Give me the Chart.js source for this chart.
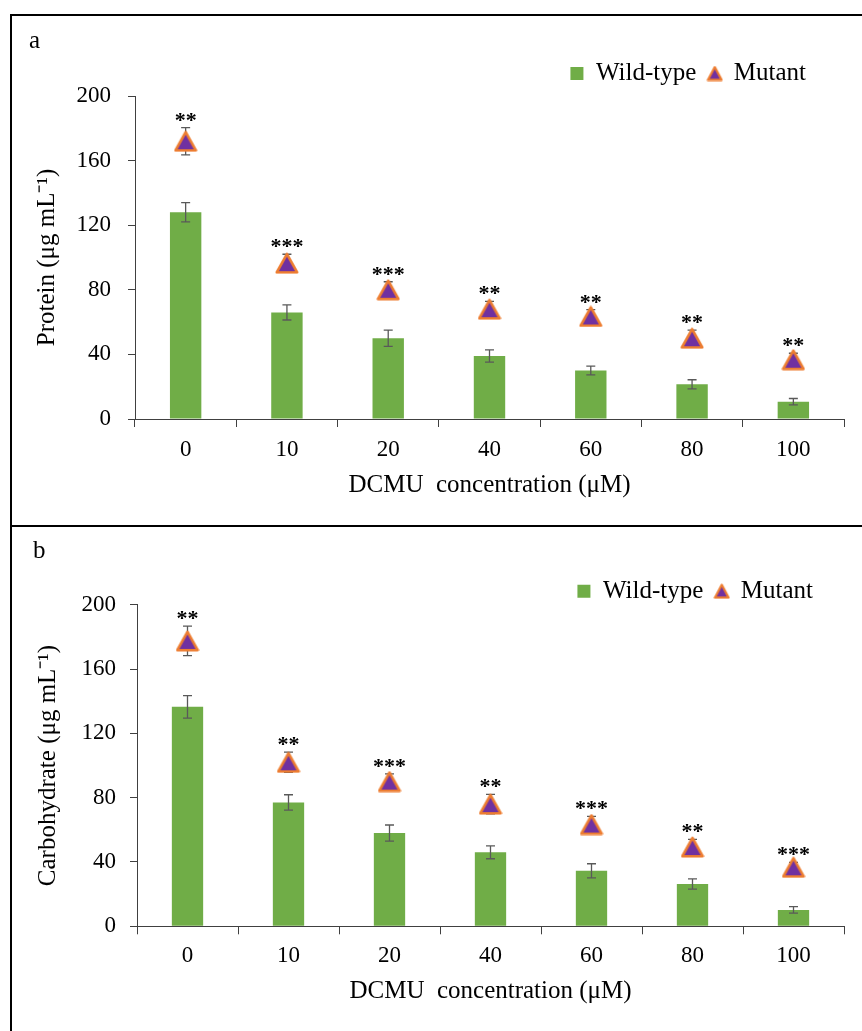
<!DOCTYPE html>
<html>
<head>
<meta charset="utf-8">
<script src="https://cdn.jsdelivr.net/npm/chart.js@4.4.0/dist/chart.umd.min.js"></script>
<style>
  html, body { margin: 0; padding: 0; background: #fff; overflow: hidden; }
  body { width: 862px; height: 1031px; position: relative; }
  .box { position: absolute; left: 10px; width: 880px; border: 2px solid #000; }
  #boxA { top: 14px; height: 509px; }
  #boxB { top: 525px; height: 540px; }
  canvas { position: absolute; left: 0; top: 0; }
</style>
</head>
<body>
<div class="box" id="boxA"><canvas id="chartA" width="850" height="509"></canvas></div>
<div class="box" id="boxB"><canvas id="chartB" width="850" height="503"></canvas></div>
<script>
// datos
const doses = ['0', '10', '20', '40', '60', '80', '100'];

const wildA = [128, 66, 50, 39, 30, 21.5, 10.7];
const wildErrA = [6, 4.7, 5, 3.8, 2.7, 2.8, 2];
const mutA = [172, 96.5, 80, 68, 63.5, 50, 36.7];
const mutErrA = [8.4, 5.5, 5, 4.8, 4.2, 5, 4];
const starsA = ['**', '***', '***', '**', '**', '**', '**'];

const wildB = [136.5, 77, 58, 46, 34.5, 26.3, 10.2];
const wildErrB = [7, 4.8, 5, 4, 4.4, 3.2, 2];
const mutB = [177.5, 102, 90, 76, 63.3, 49.3, 36.7];
const mutErrB = [9.2, 6.3, 4.8, 6, 5, 4.8, 3.1];
const starsB = ['**', '**', '***', '**', '***', '**', '***'];

const serif = "'Liberation Serif', 'Times New Roman', serif";
const axisCol = '#404040';

// triangulo tipo Excel (borde naranja, relleno morado)
function makeTri(w, h, lw) {
    const c = document.createElement('canvas');
    c.width = w; c.height = h;
    const ctx = c.getContext('2d');
    ctx.lineJoin = 'round';
    ctx.lineWidth = lw;
    ctx.fillStyle = '#7030A0';
    ctx.strokeStyle = '#ED7D31';
    ctx.beginPath();
    ctx.moveTo(w / 2, lw / 2 + 0.5);
    ctx.lineTo(w - lw / 2 - 0.5, h - lw / 2 - 0.5);
    ctx.lineTo(lw / 2 + 0.5, h - lw / 2 - 0.5);
    ctx.closePath();
    ctx.fill();
    ctx.stroke();
    return c;
}
const triBig = makeTri(24, 22, 2.6);
const triSmall = makeTri(17, 16, 2.2);

function drawErr(chart, idx, errs) {
    const meta = chart.getDatasetMeta(idx);
    const y = chart.scales.y;
    const vals = chart.data.datasets[idx].data;
    const ctx = chart.ctx;
    ctx.save();
    ctx.strokeStyle = '#595959';
    ctx.lineWidth = 1.3;
    meta.data.forEach((el, i) => {
        const x = el.x;
        const t = y.getPixelForValue(vals[i] + errs[i]);
        const b = y.getPixelForValue(vals[i] - errs[i]);
        ctx.beginPath();
        ctx.moveTo(x, t); ctx.lineTo(x, b);
        ctx.moveTo(x - 4.5, t); ctx.lineTo(x + 4.5, t);
        ctx.moveTo(x - 4.5, b); ctx.lineTo(x + 4.5, b);
        ctx.stroke();
    });
    ctx.restore();
}

const extras = {
    id: 'extras',
    afterLayout(chart, args, o) {
        const lg = chart.legend;
        lg.left += o.dx; lg.right += o.dx;
        lg.top += o.dy; lg.bottom += o.dy;
    },
    beforeDatasetDraw(chart, args, o) {
        if (args.index === 1) drawErr(chart, 1, o.mutErr);
    },
    afterDatasetDraw(chart, args, o) {
        if (args.index === 0) drawErr(chart, 0, o.wildErr);
    },
    afterDatasetsDraw(chart, args, o) {
        const ctx = chart.ctx;
        const y = chart.scales.y;
        const meta = chart.getDatasetMeta(1);
        const vals = chart.data.datasets[1].data;
        ctx.save();
        ctx.fillStyle = '#000';
        ctx.font = 'bold 22px ' + serif;
        ctx.textAlign = 'center';
        ctx.textBaseline = 'alphabetic';
        meta.data.forEach((el, i) => {
            const t = y.getPixelForValue(vals[i] + o.mutErr[i]);
            ctx.fillText(o.stars[i], el.x, t - 1);
        });
        // letra del panel
        ctx.textAlign = 'left';
        ctx.font = '25px ' + serif;
        ctx.fillText(o.letter, o.lx, o.ly);
        ctx.restore();
    }
};

function makePanel(id, p) {
    return new Chart(document.getElementById(id), {
        type: 'bar',
        data: {
            labels: doses,
            datasets: [
                { label: 'Wild-type', data: p.wild, backgroundColor: '#70AD47', borderWidth: 0,
                  barPercentage: 0.31, categoryPercentage: 1 },
                { type: 'line', label: 'Mutant', data: p.mut, showLine: false,
                  pointStyle: triBig, pointRadius: 12, pointHoverRadius: 12 }
            ]
        },
        options: {
            responsive: false,
            animation: false,
            layout: { padding: { top: p.padTop, right: 18, left: 0, bottom: 0 } },
            plugins: {
                legend: {
                    position: 'top', align: 'end',
                    labels: {
                        usePointStyle: true, boxWidth: 13, boxHeight: 13, padding: 12,
                        color: '#000', font: { family: serif, size: 25 },
                        generateLabels: ch => {
                            const items = Chart.defaults.plugins.legend.labels.generateLabels(ch);
                            items[0].pointStyle = 'rect';
                            items[0].lineWidth = 0;
                            items[1].pointStyle = triSmall;
                            return items;
                        }
                    }
                },
                tooltip: { enabled: false },
                extras: { dx: p.dx, dy: p.dy, mutErr: p.mutErr, wildErr: p.wildErr, stars: p.stars,
                          letter: p.letter, lx: p.lx, ly: p.ly }
            },
            scales: {
                x: {
                    grid: { offset: true, drawOnChartArea: false, tickLength: 8, color: axisCol },
                    border: { color: axisCol, width: 1 },
                    ticks: { color: '#000', font: { family: serif, size: 23 }, padding: p.xTickPad },
                    title: { display: true, text: 'DCMU  concentration (μM)', color: '#000',
                             font: { family: serif, size: 25 }, padding: { top: 0, bottom: p.xTitlePad } },
                    afterFit: s => { s.height = p.xH; }
                },
                y: {
                    min: 0, max: 200,
                    grid: { drawOnChartArea: false, tickLength: 7, color: axisCol },
                    border: { color: axisCol, width: 1 },
                    ticks: { stepSize: 40, color: '#000', font: { family: serif, size: 23 }, padding: p.yTickPad },
                    title: { display: true, text: p.yTitle, color: '#000',
                             font: { family: serif, size: 25 }, padding: { top: p.yTitlePad, bottom: 0 } },
                    afterFit: s => { s.width = p.yW; }
                }
            }
        },
        plugins: [extras]
    });
}

makePanel('chartA', {
    wild: wildA, wildErr: wildErrA, mut: mutA, mutErr: mutErrA, stars: starsA,
    yTitle: 'Protein (μg mL⁻¹)', letter: 'a', lx: 17, ly: 32,
    padTop: 33, dx: -26, dy: 0, xH: 106, yW: 123,
    xTickPad: 9, xTitlePad: 25, yTickPad: 17, yTitlePad: 20
});

makePanel('chartB', {
    wild: wildB, wildErr: wildErrB, mut: mutB, mutErr: mutErrB, stars: starsB,
    yTitle: 'Carbohydrate (μg mL⁻¹)', letter: 'b', lx: 21, ly: 31,
    padTop: 30.7, dx: -19, dy: 9, xH: 103.7, yW: 125,
    xTickPad: 7.6, xTitlePad: 24, yTickPad: 14, yTitlePad: 21
});
</script>
</body>
</html>
